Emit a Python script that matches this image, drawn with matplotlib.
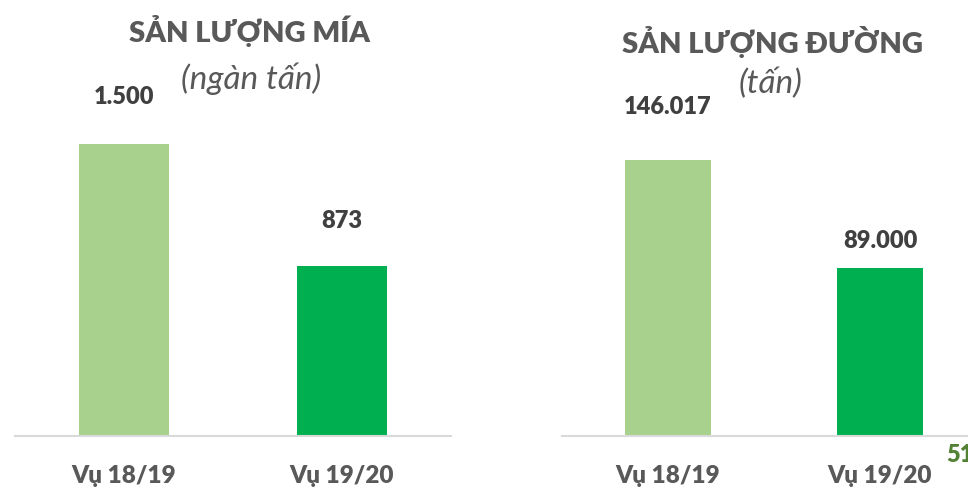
import matplotlib
matplotlib.use("Agg")
import matplotlib.pyplot as plt

categories = ["Vụ 18/19", "Vụ 19/20"]
mia_values = [1500, 873]
mia_labels = ["1.500", "873"]
duong_values = [146017, 89000]
duong_labels = ["146.017", "89.000"]
titles = ["SẢN LƯỢNG MÍA", "SẢN LƯỢNG ĐƯỜNG"]
subtitles = ["(ngàn tấn)", "(tấn)"]
page_number = "51"

FONT = ["Lato", "Open Sans", "DejaVu Sans"]
plt.rcParams["font.family"] = FONT

W, H = 968, 488
fig = plt.figure(figsize=(W / 100, H / 100), dpi=100)

colors = ["#A9D18E", "#00B050"]
gray = "#595959"
dark = "#404040"
BOLD = "heavy"

def px(x0, y0, x1, y1):
    return [x0 / W, 1 - y1 / H, (x1 - x0) / W, (y1 - y0) / H]

panels = [
    dict(rect=px(15, 0, 451, 436), vals=mia_values, labs=mia_labels,
         top_px=292 / 436, title=titles[0], sub=subtitles[0],
         tpos=(250, 31), spos=(251, 79), offs=[47, 45]),
    dict(rect=px(562, 0, 986, 436), vals=duong_values, labs=duong_labels,
         top_px=276 / 436, title=titles[1], sub=subtitles[1],
         tpos=(773, 42), spos=(771, 84), offs=[53, 27]),
]

for p in panels:
    ax = fig.add_axes(p["rect"])
    x = list(range(len(categories)))
    ax.bar(x, p["vals"], width=0.41, color=colors, zorder=2)
    ax.set_xlim(-0.5, 1.5)
    ax.set_ylim(0, p["vals"][0] / p["top_px"])
    for s in ["top", "right", "left"]:
        ax.spines[s].set_visible(False)
    ax.spines["bottom"].set_color("#D9D9D9")
    ax.spines["bottom"].set_linewidth(1.5)
    ax.set_yticks([])
    ax.set_xticks(x)
    ax.set_xticklabels(categories, fontsize=17.5, fontweight=BOLD, color=gray)
    ax.tick_params(axis="x", length=0, pad=21)
    for xi, v, lab, off in zip(x, p["vals"], p["labs"], p["offs"]):
        ax.annotate(lab, (xi, v), xytext=(0, off * 0.72), textcoords="offset points",
                    ha="center", va="center", fontsize=17, fontweight=BOLD,
                    color=dark)
    fig.text(p["tpos"][0] / W, 1 - p["tpos"][1] / H, p["title"], ha="center",
             va="center", fontsize=21, fontweight=BOLD, color=gray)
    fig.text(p["spos"][0] / W, 1 - p["spos"][1] / H, p["sub"], ha="center",
             va="center", fontsize=24, style="italic", color=gray)

fig.text(946 / W, 1 - 455 / H, page_number, ha="left", va="center",
         fontsize=17, fontweight=BOLD, color="#548235")

fig.savefig("out.png", dpi=100)
